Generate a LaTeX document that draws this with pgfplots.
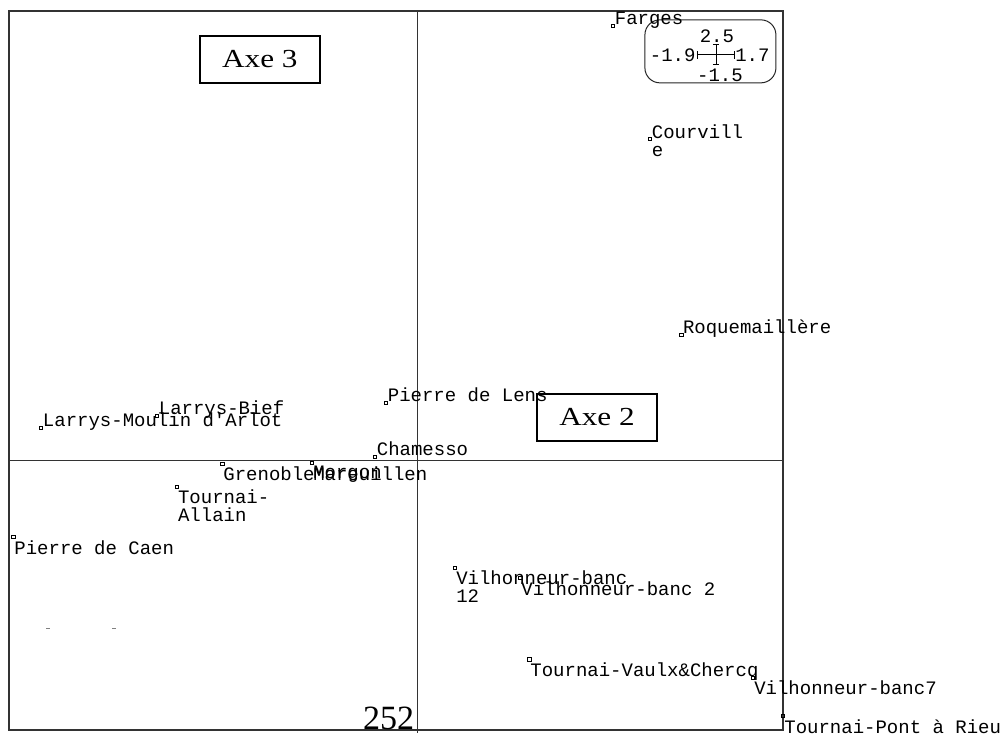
\documentclass[border=0pt]{standalone}
\usepackage{fontspec}
\setmainfont{Liberation Serif}
\newfontfamily\mono{Liberation Mono}
\usepackage{pgfplots}
\pgfplotsset{compat=1.18}
\usetikzlibrary{calc}
\protected\def\nl{\\}
\tikzset{
  lab/.style={inner sep=0pt, font=\mono\fontsize{9.5}{9}\selectfont, align=left, text=black},
  axebox/.style={draw, fill=white, line width=0.8pt, minimum width=60pt, minimum height=23.5pt, inner sep=0pt,
    font=\fontsize{13}{15}\selectfont}}

\begin{document}
\begin{tikzpicture}
\begin{axis}[width=387pt, height=359.5pt, scale only axis,
  xmin=-1.9, xmax=1.7, ymin=-1.5, ymax=2.5, ticks=none, clip=false,
  axis line style={black!80, line width=0.7pt},
  point meta=explicit symbolic, nodes near coords,
  mark size=0.9pt]
  % zero lines
  \draw[black!80, line width=0.6pt] (axis cs:-1.9,0) -- (axis cs:1.7,0);
  \draw[black!80, line width=0.6pt] (axis cs:0,2.5) -- (axis cs:0,-1.516);
  % labels above the point
  \addplot[only marks, mark=square, mark options={line width=0.35pt},
    every node near coord/.style={lab, anchor=base west, xshift=0.8pt, yshift=0.5pt}]
  coordinates {
    (0.909,2.417)   [Farges]
    (1.226,0.698)   [Roquemaillère]
    (-0.147,0.320)  [Pierre de Lens]
    (-1.212,0.248)  [Larrys-Bief]
    (-1.751,0.181)  [Larrys-Moulin d'Arlot]
    (-0.198,0.019)  [Chamesso]
  };
  \addplot[only marks, mark=square, mark options={line width=0.35pt},
    every node near coord/.style={lab, anchor=north west, xshift=0.8pt, yshift=7pt}]
  coordinates {
    (1.081,1.789)   [Courvill\nl e]
  };
  % labels below the point
  \addplot[only marks, mark=square, mark options={line width=0.35pt},
    every node near coord/.style={lab, anchor=north west, xshift=0.5pt, yshift=-1.5pt}]
  coordinates {
    (-0.909,-0.019) [Grenoble]
    (-0.491,-0.014) [Mareuillen]
    (-0.491,-0.014) [Morgon]
    (-1.120,-0.147) [Tournai-\nl Allain]
    (-1.881,-0.426) [Pierre de Caen]
    (0.174,-0.598)  [Vilhonneur-banc\nl 12]
    (0.477,-0.654)  [Vilhonneur-banc 2]
    (0.519,-1.108)  [Tournai-Vaulx\&Chercq]
    (1.560,-1.210)  [Vilhonneur-banc7]
    (1.700,-1.422)  [Tournai-Pont à Rieu]
  };
  % two unlabelled points
  \addplot[only marks, mark=-, mark size=1pt, gray, nodes near coords=]
  coordinates {(-1.719,-0.932) [] (-1.412,-0.932) []};
  % axis names
  \node[axebox] at (axis cs:-0.733,2.231) {\scalebox{1.2}[1]{Axe 3}};
  \node[axebox] at (axis cs:0.835,0.239) {\scalebox{1.2}[1]{Axe 2}};
  % scale box
  \coordinate (c) at (axis cs:1.388,2.256);
  \draw[black!85, fill=white, line width=0.5pt, rounded corners=7.5pt]
    ($(c)+(-35.5pt,-14pt)$) rectangle ($(c)+(30pt,17.5pt)$);
  \draw[line width=0.4pt] ($(c)+(-9.5pt,0pt)$) -- ($(c)+(9pt,0pt)$);
  \draw[line width=0.4pt] ($(c)+(-9.5pt,-2pt)$) -- ($(c)+(-9.5pt,2pt)$);
  \draw[line width=0.4pt] ($(c)+(9pt,-2pt)$) -- ($(c)+(9pt,2pt)$);
  \draw[line width=0.4pt] ($(c)+(0pt,-5pt)$) -- ($(c)+(0pt,5pt)$);
  \draw[line width=0.4pt] ($(c)+(-1.5pt,5pt)$) -- ($(c)+(1.5pt,5pt)$);
  \draw[line width=0.4pt] ($(c)+(-1.5pt,-5pt)$) -- ($(c)+(1.5pt,-5pt)$);
  \node[lab, anchor=center] at ($(c)+(0.5pt,9.5pt)$) {2.5};
  \node[lab, anchor=east] at ($(c)+(-10pt,0pt)$) {-1.9};
  \node[lab, anchor=west] at ($(c)+(9.5pt,0pt)$) {1.7};
  \node[lab, anchor=center] at ($(c)+(2pt,-10pt)$) {-1.5};
  % page number
  \node[anchor=base east, inner sep=0pt, font=\fontsize{17}{19}\selectfont]
    at ($(axis cs:0,-1.5)+(-1.5pt,0.5pt)$) {252};
\end{axis}
\pgfresetboundingbox
\path (current axis.south west) ++(-4.5pt,-1.5pt) rectangle ++(500pt,366.5pt);
\end{tikzpicture}
\end{document}
